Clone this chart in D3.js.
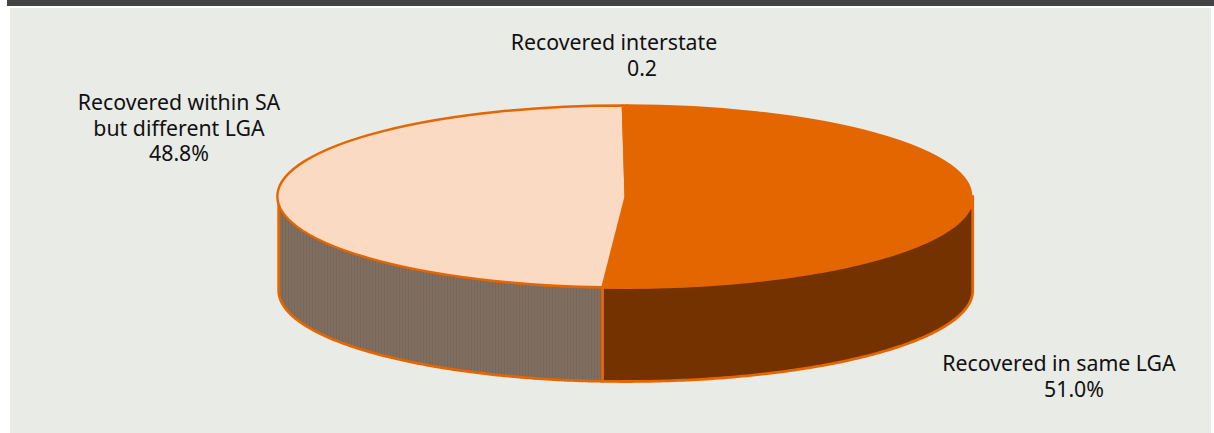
<!DOCTYPE html>
<html><head><meta charset="utf-8">
<script src="https://cdn.jsdelivr.net/npm/d3@7"></script>
<style>html,body{margin:0;padding:0;background:#fff}svg{display:block}text{font-family:"Noto Sans",sans-serif;font-size:21.3px;fill:#111}</style>
</head><body><svg id="c" width="1214" height="433"></svg>
<script>
const categories = ["Recovered in same LGA", "Recovered within SA but different LGA", "Recovered interstate"];
const values = [51.0, 48.8, 0.2];
const labelLines = [["Recovered in same LGA", "51.0%"], ["Recovered within SA", "but different LGA", "48.8%"], ["Recovered interstate", "0.2"]];
const W = 1214, H = 433;
const cx = 625.7, cy = 196.5, rx = 347, ry = 91, depth = 94;
const ORANGE = "#e36600", DARK = "#733200", LINE = "#e36600";
const svg = d3.select("#c");
const defs = svg.append("defs");
function stripes(id, a, b) {
  const p = defs.append("pattern").attr("id", id).attr("width", 3).attr("height", 4).attr("patternUnits", "userSpaceOnUse");
  p.append("rect").attr("width", 3).attr("height", 4).attr("fill", a);
  p.append("rect").attr("width", 1).attr("height", 4).attr("fill", b);
}
stripes("lightP", "#fadac3", "#f4c9aa");
stripes("greyP", "#806f60", "#76675a");
const dots = defs.append("pattern").attr("id", "dotP").attr("width", 2).attr("height", 2).attr("patternUnits", "userSpaceOnUse");
dots.append("rect").attr("width", 2).attr("height", 2).attr("fill", ORANGE);
dots.append("rect").attr("width", 1).attr("height", 1).attr("fill", "#fff");

svg.append("rect").attr("x", 7).attr("y", 0).attr("width", W - 7).attr("height", 6).attr("fill", "#444444");
svg.append("rect").attr("x", 10).attr("y", 8).attr("width", 1201).attr("height", H - 8).attr("fill", "#e9ebe7");

const rot = 0.25 * Math.PI / 180;
const pie = d3.pie().sort(null).value(d => d).startAngle(rot).endAngle(2 * Math.PI + rot);
const arcs = pie(values);
const px = t => cx + rx * Math.sin(t), py = t => cy - ry * Math.cos(t);
const fills = [ORANGE, "url(#lightP)", "url(#dotP)"];
const wallFills = [DARK, "url(#greyP)"];
const clampFront = a => [Math.max(a.startAngle, Math.PI / 2), Math.min(a.endAngle, 3 * Math.PI / 2)];

const wallArea = d3.area().x(d => px(d)).y0(d => py(d)).y1(d => py(d) + depth);
arcs.slice(0, 2).forEach((a, i) => {
  const [s, e] = clampFront(a);
  svg.append("path").attr("d", wallArea(d3.range(0, 121).map(k => s + (e - s) * k / 120)))
    .attr("fill", wallFills[i]).attr("stroke", LINE).attr("stroke-width", 2.8).attr("stroke-linejoin", "round");
});
const unit = d3.arc().innerRadius(0).outerRadius(1);
const topFace = svg.append("g").attr("transform", `translate(${cx},${cy}) scale(${rx},${ry})`);
topFace.selectAll("path").data(arcs).join("path").attr("d", unit)
  .attr("fill", (d, i) => fills[i]).attr("stroke", LINE).attr("stroke-width", 2.4)
  .attr("vector-effect", "non-scaling-stroke").attr("stroke-linejoin", "round");

const anchors = [{x:1059,y:371},{x:179,y:110},{x:614,y:50}];
labelLines.forEach((lines, i) => {
  const t = svg.append("text").attr("text-anchor", "middle");
  lines.forEach((l, j) => {
    t.append("tspan").attr("x", (i === 2 && j === 1) ? 642 : (i === 0 && j === 1 ? 1074 : anchors[i].x))
      .attr("y", anchors[i].y + j * 25.7).text(l);
  });
});
</script></body></html>
